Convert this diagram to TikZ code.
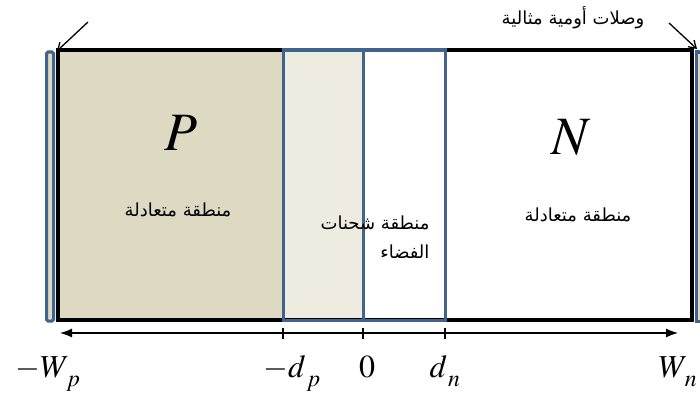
\documentclass[tikz,border=0pt]{standalone}
\usepackage{mathptmx}
\usepackage{fontspec}
\newfontfamily\arabicfont[Script=Arabic]{DejaVu Sans}
\TeXXeTstate=1
\usetikzlibrary{arrows.meta}
\definecolor{pbeige}{HTML}{DDD9C3}
\definecolor{dlight}{HTML}{EEECE1}
\definecolor{edgeblue}{HTML}{41648F}
\newcommand{\lowsub}[1]{_{\,\lower5pt\hbox{$\scriptstyle #1$}}}

\begin{document}
\begin{tikzpicture}[x=1pt,y=-1pt,
    arlabel/.style={font=\arabicfont\fontsize{18}{29}\selectfont},
    axlabel/.style={font=\fontsize{32}{36}\selectfont,anchor=base,inner sep=0pt},
    typelabel/.style={font=\fontsize{54}{60}\selectfont},
    blueline/.style={draw=edgeblue,line width=3pt},
    contact/.style={fill=pbeige,draw=edgeblue,line width=3pt}]
    \useasboundingbox (0,0) rectangle (700,396);
    % regions
    \fill[pbeige] (58,50) rectangle (283,320);
    \fill[dlight] (283,50) rectangle (363,320);
    \filldraw[contact,rounded corners=1.5pt] (46.5,52) rectangle (53.5,321);
    \filldraw[contact] (696,52) rectangle (704,321);
    \draw[line width=4pt] (58,50) rectangle (692,320);
    \draw[blueline] (283,50) rectangle (445,320);
    \draw[blueline] (363,50) -- (363,320);
    \node[typelabel] (ptype) at (181,133) {$P$};
    \node[typelabel] (ntype) at (571,137) {$N$};
    \node[arlabel] (pneutral) at (178,210) {\beginR منطقة متعادلة\endR};
    \node[arlabel] (nneutral) at (578,215) {\beginR منطقة متعادلة\endR};
    \node[arlabel,align=right,anchor=north east] (depletion) at (433,212)
        {\beginR منطقة شحنات\endR\\\beginR الفضاء\endR};
    % ohmic contacts
    \node[arlabel] (ohmic) at (573,18) {\beginR وصلات أومية مثالية\endR};
    \coordinate (lstart) at (88,22);
    \coordinate (lcorner) at (57,51);
    \coordinate (rstart) at (669,23);
    \coordinate (rcorner) at (697,49);
    \draw[line width=1.3pt,-{Straight Barb[length=7pt,width=9pt]}] (lstart) -- (lcorner);
    \draw[line width=1.3pt,-{Straight Barb[length=7pt,width=9pt]}] (rstart) -- (rcorner);
    % axis
    \coordinate (wl) at (60,333);
    \coordinate (wr) at (678,333);
    \draw[line width=1.2pt,{Latex[length=12pt,width=9pt]}-{Latex[length=12pt,width=9pt]}] (wl) -- (wr);
    \foreach \x in {283,363,445}
        \draw[line width=1.2pt] (\x,328) -- (\x,339);
    \node[axlabel] (wp) at (48,377) {$-W\lowsub{p}$};
    \node[axlabel] (dp) at (292,377) {$-d\lowsub{p}$};
    \node[axlabel] (zero) at (367,377) {$0$};
    \node[axlabel] (dn) at (445,377) {$d\lowsub{n}$};
    \node[axlabel] (wn) at (678,377) {$W\lowsub{n}$};
\end{tikzpicture}
\end{document}
